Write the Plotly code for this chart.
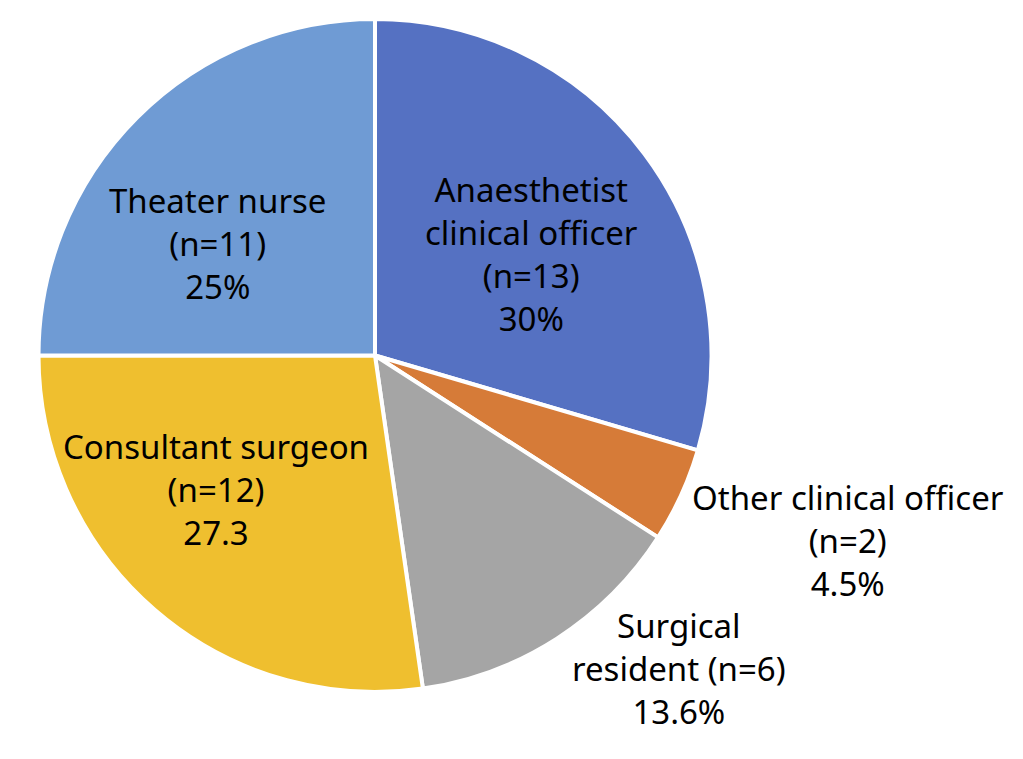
import plotly.graph_objects as go

# Staff categories, counts and printed labels
categories = ["Anaesthetist clinical officer", "Other clinical officer",
              "Surgical resident", "Consultant surgeon", "Theater nurse"]
counts = [13, 2, 6, 12, 11]
label_texts = [
    "Anaesthetist<br>clinical officer<br>(n=13)<br>30%",
    "Other clinical officer<br>(n=2)<br>4.5%",
    "Surgical<br>resident (n=6)<br>13.6%",
    "Consultant surgeon<br>(n=12)<br>27.3",
    "Theater nurse<br>(n=11)<br>25%",
]
colors = ["#5571C2", "#D67B38", "#A5A5A5", "#EFBF2F", "#6F9BD4"]

W, H = 1023, 759

fig = go.Figure(go.Pie(
    labels=categories,
    values=counts,
    sort=False,
    direction="clockwise",
    rotation=0,
    textinfo="none",
    hoverinfo="label+value+percent",
    marker=dict(colors=colors, line=dict(color="white", width=4)),
    domain=dict(x=[29 / W, 705 / W], y=[(H - 684) / H, (H - 11) / H]),
    showlegend=False,
))

# label centres in pixels (x, y from top)
label_pos = [(523, 246), (840, 532), (671, 660), (208, 481), (209, 235)]
for txt, (px, py) in zip(label_texts, label_pos):
    fig.add_annotation(
        x=px / W, y=1 - py / H, xref="paper", yref="paper",
        xanchor="center", yanchor="middle",
        text=txt, showarrow=False, align="center",
        font=dict(family="Noto Sans", size=33, color="black"),
    )

fig.update_layout(
    width=W, height=H,
    margin=dict(l=0, r=0, t=0, b=0),
    paper_bgcolor="white",
    plot_bgcolor="white",
)

fig.write_html("out.html")
